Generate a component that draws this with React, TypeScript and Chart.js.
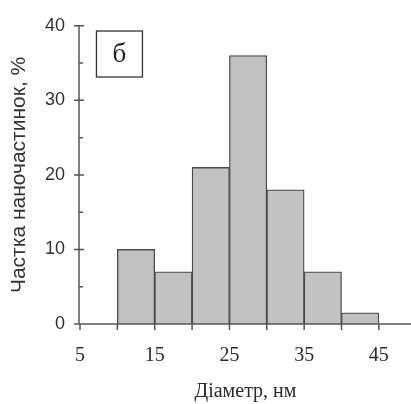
import React, { useEffect, useRef } from "react";
import { Chart, registerables } from "chart.js";

Chart.register(...registerables);

const binStarts = [10, 15, 20, 25, 30, 35, 40];
const binWidth = 5;
const shares = [10, 7, 21, 36, 18, 7, 1.5];
const xTickLabels = [5, 15, 25, 35, 45];
const xMinorTicks = [5, 10, 15, 20, 25, 30, 35, 40, 45];
const yMajorTicks = [0, 10, 20, 30, 40];
const yMinorTicks = [5, 15, 25, 35];
const panelLabel = "б";
const xTitle = "Діаметр, нм";
const yTitle = "Частка наночастинок, %";

const AXIS = "#555";

const axesPlugin = {
  id: "axesPlugin",
  afterDatasetsDraw(chart: any) {
    const { ctx, chartArea, scales } = chart;
    const xs = scales.x;
    const ys = scales.y;
    const x0 = xs.getPixelForValue(5) - 1;
    const y0 = ys.getPixelForValue(0);
    ctx.save();
    ctx.strokeStyle = AXIS;
    ctx.lineWidth = 1.5;
    ctx.beginPath();
    ctx.moveTo(x0, ys.getPixelForValue(40));
    ctx.lineTo(x0, y0);
    ctx.moveTo(x0 - 3, y0);
    ctx.lineTo(chartArea.right, y0);
    for (const v of yMajorTicks) {
      const p = ys.getPixelForValue(v);
      ctx.moveTo(x0 - 5, p);
      ctx.lineTo(x0 + 5, p);
    }
    for (const v of yMinorTicks) {
      const p = ys.getPixelForValue(v);
      ctx.moveTo(x0, p);
      ctx.lineTo(x0 + 4, p);
    }
    for (const v of xMinorTicks) {
      const p = xs.getPixelForValue(v);
      ctx.moveTo(p, y0);
      ctx.lineTo(p, y0 + 6);
    }
    ctx.stroke();

    // panel label box
    const bx = xs.getPixelForValue(7.2);
    const by = ys.getPixelForValue(39.3);
    const bw = 46;
    const bh = 46;
    ctx.lineWidth = 1.3;
    ctx.strokeStyle = "#333";
    ctx.strokeRect(bx, by, bw, bh);
    ctx.fillStyle = "#222";
    ctx.font = "27px 'Liberation Serif', serif";
    ctx.textAlign = "center";
    ctx.textBaseline = "middle";
    ctx.fillText(panelLabel, bx + bw / 2, by + bh / 2 + 1);
    ctx.restore();
  },
};

export default function App() {
  const ref = useRef<HTMLCanvasElement>(null);
  useEffect(() => {
    document.body.style.margin = "0";
    const canvas = ref.current!;
    const chart = new Chart(canvas, {
      type: "bar",
      data: {
        datasets: [
          {
            data: binStarts.map((s, i) => ({ x: s + binWidth / 2, y: shares[i] })),
            backgroundColor: "#c2c2c2",
            borderColor: "#4a4a4a",
            borderWidth: 1.3,
            borderSkipped: "bottom",
            categoryPercentage: 1,
            barPercentage: 1,
          },
        ],
      },
      options: {
        animation: false,
        responsive: false,
        events: [],
        layout: { padding: { top: 24, right: 0, left: 0, bottom: 0 } },
        plugins: { legend: { display: false }, tooltip: { enabled: false } },
        scales: {
          x: {
            type: "linear",
            offset: false,
            min: 5,
            max: 49.3,
            grid: { display: false, drawTicks: false },
            border: { display: false },
            afterBuildTicks: (scale: any) => {
              scale.ticks = xTickLabels.map((v) => ({ value: v }));
            },
            afterFit: (scale: any) => {
              scale.height = 80;
            },
            ticks: {
              autoSkip: false,
              maxRotation: 0,
              padding: 20,
              color: "#2a2a2a",
              font: { family: "'Liberation Serif', serif", size: 20 },
              callback: (v: any) => String(v),
            },
            title: {
              display: true,
              text: xTitle,
              color: "#2a2a2a",
              font: { family: "'Liberation Serif', serif", size: 20 },
              padding: { top: 4, bottom: 0 },
            },
          },
          y: {
            min: 0,
            max: 40,
            grid: { display: false, drawTicks: false },
            border: { display: false },
            afterBuildTicks: (scale: any) => {
              scale.ticks = yMajorTicks.map((v) => ({ value: v }));
            },
            afterFit: (scale: any) => {
              scale.width = 80;
            },
            ticks: {
              padding: 15,
              color: "#333",
              font: { family: "'Liberation Sans', sans-serif", size: 18 },
            },
            title: {
              display: true,
              text: yTitle,
              color: "#333",
              font: { family: "'Liberation Sans', sans-serif", size: 21 },
              padding: { top: 7, bottom: 0 },
            },
          },
        },
      },
      plugins: [axesPlugin],
    } as any);
    return () => chart.destroy();
  }, []);
  return <canvas ref={ref} width={411} height={404} style={{ display: "block" }} />;
}
